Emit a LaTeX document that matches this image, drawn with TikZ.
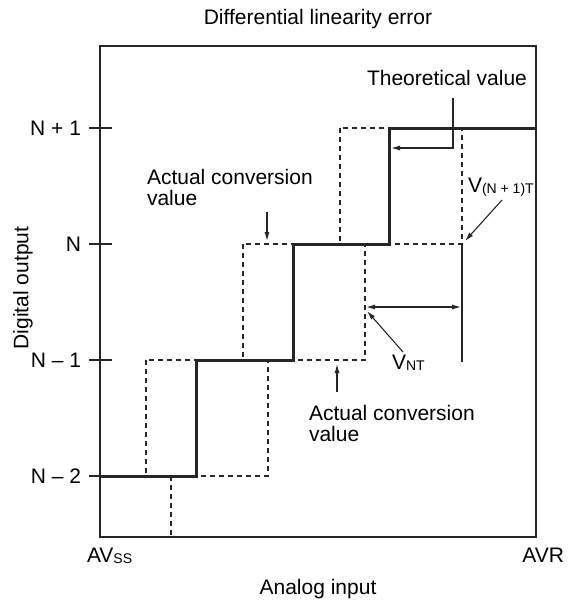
\documentclass[tikz,border=0pt]{standalone}
\usepackage{fontspec}
\setmainfont{Liberation Sans}
\usetikzlibrary{arrows.meta}
\newcommand{\subsz}[1]{{\fontsize{14}{14}\selectfont\raisebox{-1pt}{#1}}}
\begin{document}
\begin{tikzpicture}[x=1pt,y=-1pt,
  every node/.style={inner sep=0pt, outer sep=0pt, font=\fontsize{21}{21}\selectfont},
  frame/.style={line width=1.3pt, draw=black!85},
  tick/.style={line width=1.1pt, draw=black!85},
  stair/.style={line width=3pt, draw=black!85, line cap=rect},
  dashline/.style={line width=1.1pt, draw=black!85, dash pattern=on 5pt off 4pt},
  thin/.style={line width=1.2pt, draw=black!85},
  pointer/.style={line width=1.1pt, draw=black!85, -{Latex[length=9pt,width=5pt]}},
  dpointer/.style={line width=1.1pt, draw=black!85, {Latex[length=9pt,width=5pt]}-{Latex[length=9pt,width=5pt]}}]
\useasboundingbox (0,0) rectangle (573,602);
% frame
\draw[frame] (100,46) rectangle (536,537);
% texts
\node[anchor=base] (title) at (318,25) {Differential linearity error};
\node[anchor=base] (xlab) at (318,594) {Analog input};
\node[anchor=base west] (avss) at (87,562) {AV\subsz{SS}};
\node[anchor=base east] (avr) at (564,562) {AVR};
\node[rotate=90] (ylab) at (23,288) {Digital output};
\node[anchor=east] (n1) at (81,128) {N + 1};
\node[anchor=east] (n0) at (81,244) {N};
\node[anchor=east] (nm1) at (81,360) {N – 1};
\node[anchor=east] (nm2) at (81,476) {N – 2};
% ticks
\draw[tick] (89,128) -- (112,128);
\draw[tick] (89,244) -- (112,244);
\draw[tick] (89,360) -- (112,360);
\draw[tick] (89,476) -- (112,476);
% dashed actual conversion values
\draw[dashline] (146,360) rectangle (268,476);
\draw[dashline] (243,244) rectangle (365,360);
\draw[dashline] (340,128) rectangle (462,244);
\draw[dashline] (171,476) -- (171,537);
\draw[thin] (462,244) -- (462,362);
% theoretical staircase
\draw[stair] (101,476) -| (196,360) -| (293,244) -| (389,128) -- (535,128);
% labels
\node[anchor=base] (theo) at (447,85) {Theoretical value};
\node[anchor=north west, align=left] (act1) at (147,169) {Actual conversion\\value};
\node[anchor=north west, align=left] (act2) at (309,405) {Actual conversion\\value};
\node[anchor=base west] (vnt) at (392,369) {V\subsz{NT}};
\node[anchor=base west] (vn1t) at (468,192) {V\subsz{(N + 1)T}};
% pointer coordinates
\coordinate (theoS) at (453,98);
\coordinate (theoE) at (391,148);
\coordinate (a1S) at (267,212);
\coordinate (a1E) at (267,241);
\coordinate (a2S) at (337,392);
\coordinate (a2E) at (337,364);
\coordinate (vntS) at (403,352);
\coordinate (vntE) at (367,311);
\coordinate (dL) at (366,307);
\coordinate (dR) at (461,307);
\coordinate (vn1S) at (502,200);
\coordinate (vn1E) at (465,241);
\draw[pointer] (theoS) |- (theoE);
\draw[pointer] (a1S) -- (a1E);
\draw[pointer] (a2S) -- (a2E);
\draw[pointer] (vntS) -- (vntE);
\draw[dpointer] (dL) -- (dR);
\draw[pointer] (vn1S) -- (vn1E);
\end{tikzpicture}
\end{document}
